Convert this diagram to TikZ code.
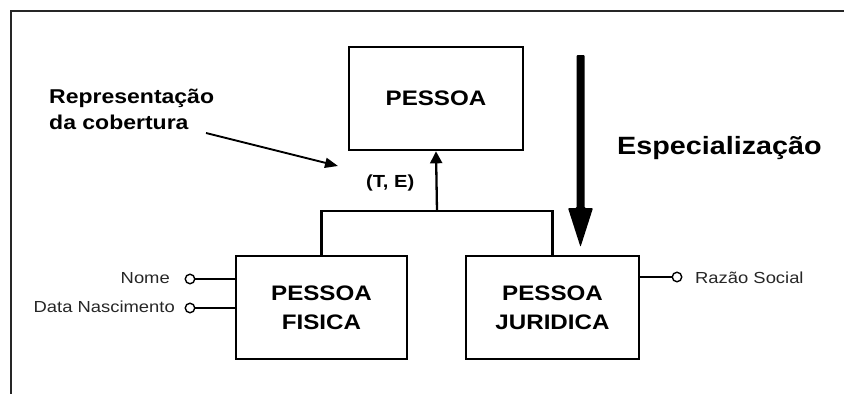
\documentclass[tikz,border=0pt]{standalone}
\usepackage{fontspec}
\setmainfont{Liberation Sans}
\usetikzlibrary{arrows.meta}

% wide setting of the Arial-like lettering
\newcommand{\widetxt}[1]{\scalebox{1.15}[1]{#1}}

\begin{document}
\begin{tikzpicture}[x=1pt,y=-1pt,
  entity/.style={draw=black, line width=2.6pt, fill=white, inner sep=0pt,
    align=center, font=\fontsize{21}{29}\selectfont\bfseries},
  attr/.style={draw=black, circle, line width=1.4pt, minimum size=9.5pt, inner sep=0pt},
  attrlabel/.style={inner sep=0pt, text=black!85, font=\fontsize{16}{19}\selectfont},
  link/.style={line width=2.3pt},
  attrlink/.style={line width=1.8pt},
  note/.style={inner sep=0pt, font=\fontsize{20}{26}\selectfont\bfseries}]

  \useasboundingbox (0,0) rectangle (844,394);

  % frame edges
  \draw[line width=1.6pt, black!85] (844,11) -- (11,11) -- (11,394);

  % entities
  \node[entity, minimum width=174pt, minimum height=103pt] (pessoa) at (436,98.5)
    {\widetxt{PESSOA}};
  \node[entity, minimum width=171pt, minimum height=103pt] (fisica) at (321.5,307.5)
    {\widetxt{PESSOA}\\\widetxt{FISICA}};
  \node[entity, minimum width=173pt, minimum height=103pt] (juridica) at (552.5,307.5)
    {\widetxt{PESSOA}\\\widetxt{JURIDICA}};

  % generalization connector
  \coordinate (bar) at (437,211);
  \draw[link] (fisica.north) |- (bar) -| (juridica.north);
  \draw[link, -{Triangle[length=12pt, width=12pt]}] (bar) -- (pessoa.south);
  \node[note, font=\fontsize{17.5}{20}\selectfont\bfseries, anchor=base west] (cov) at (366,187)
    {\widetxt{(T, E)}};

  % coverage note with pointer
  \node[note, anchor=north west, align=left] (rep) at (49,89)
    {\widetxt{Representação}\\\widetxt{da cobertura}};
  \coordinate (reptail) at (206,133);
  \coordinate (reptip) at (338,166);
  \draw[line width=1.9pt, -{Triangle[length=13pt, width=10pt]}] (reptail) -- (reptip);

  % specialization arrow
  \coordinate (spectop) at (580.5,55);
  \coordinate (spectip) at (580.5,247);
  \fill[black, rounded corners=1pt] (576.5,55) -- (584.5,55) -- (584.5,208) -- (593,208)
    -- (spectip) -- (568,208) -- (576.5,208) -- cycle;
  \node[note, font=\fontsize{25}{30}\selectfont\bfseries, anchor=base west] (spec) at (617,154)
    {\widetxt{Especialização}};

  % attributes of PESSOA FISICA
  \node[attr] (nome) at (190,279) {};
  \draw[attrlink] (nome) -- (fisica.west |- nome);
  \node[attrlabel, anchor=base east] (nomelbl) at (170,283) {\widetxt{Nome}};
  \node[attr] (nasc) at (190,308) {};
  \draw[attrlink] (nasc) -- (fisica.west |- nasc);
  \node[attrlabel, anchor=base east] (nasclbl) at (175,312) {\widetxt{Data Nascimento}};

  % attribute of PESSOA JURIDICA
  \node[attr] (razao) at (677,277) {};
  \draw[attrlink] (juridica.east |- razao) -- (razao);
  \node[attrlabel, anchor=base west] (razaolbl) at (695,283) {\widetxt{Razão Social}};
\end{tikzpicture}
\end{document}
